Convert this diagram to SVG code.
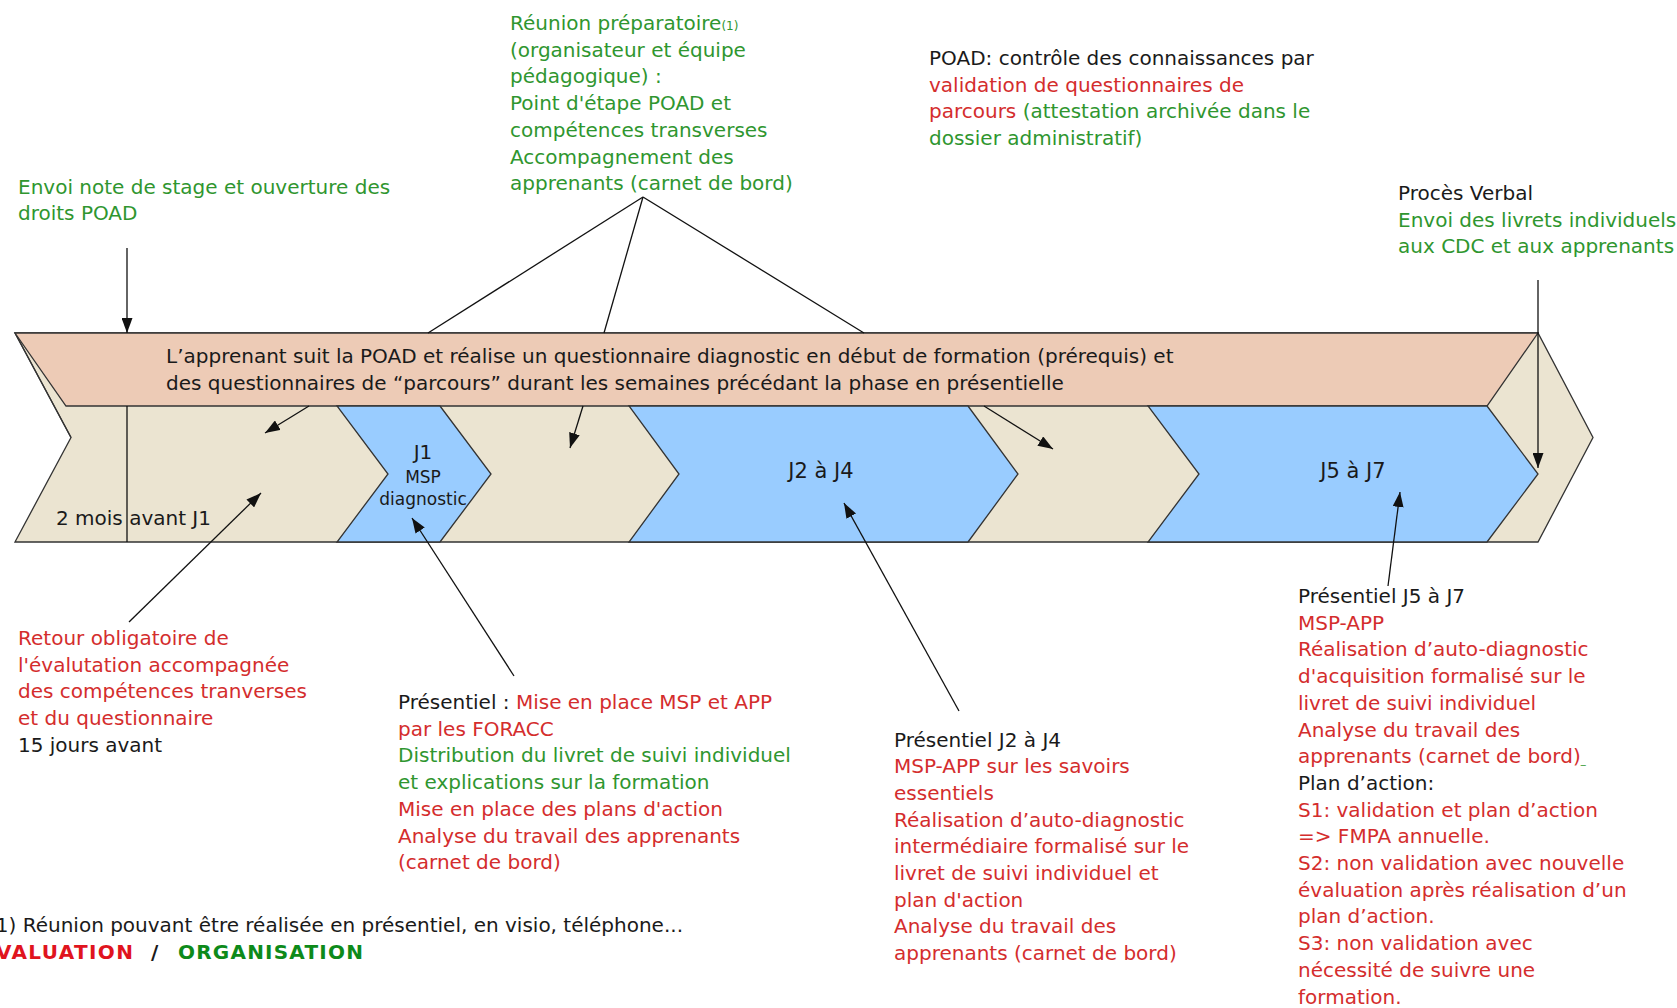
<svg xmlns="http://www.w3.org/2000/svg" width="1677" height="1008" viewBox="0 0 1677 1008">
<defs>
<marker id="ah" markerWidth="16" markerHeight="11" refX="15" refY="5.5" orient="auto" markerUnits="userSpaceOnUse">
<path d="M0,0 L15,5.5 L0,11 z" fill="#111"/>
</marker>
<style>
text{font-family:"DejaVu Sans","Liberation Sans",sans-serif;font-size:20px;fill:#1a1a1a}
.g{fill:#2f962f}
.r{fill:#d42d2d}
.k{fill:#1a1a1a}
.shape{stroke:#333;stroke-width:1.3;stroke-linejoin:miter}
.beige{fill:#ebe4d1}
.peach{fill:#edcbb6}
.blue{fill:#99ccff}
.lbl{font-size:21px;text-anchor:middle}
.conn line{stroke:#111;stroke-width:1.3}
.arr{marker-end:url(#ah)}
</style>
</defs>

<g id="timeline">
<polygon class="shape beige" points="15,333 1538,333 1593,437.5 1538,542 15,542 71,437.5"/>
<line x1="15" y1="333" x2="71" y2="437.5" stroke="#333" stroke-width="1.3"/>
</g>

<g id="poad-band">
<polygon class="shape peach" points="15,333 1538,333 1487,406 66,406"/>
<text x="166" y="363">L’apprenant suit la POAD et réalise un questionnaire diagnostic en début de formation (prérequis) et</text>
<text x="166" y="390">des questionnaires de “parcours” durant les semaines précédant la phase en présentielle</text>
</g>

<g id="j1">
<polygon class="shape blue" points="337,406 440,406 491,474 440,542 337,542 388,474"/>
<text class="lbl" x="423" y="459" style="font-size:20px">J1</text>
<text class="lbl" x="423" y="483" style="font-size:17px">MSP</text>
<text class="lbl" x="423" y="505" style="font-size:17px">diagnostic</text>
</g>

<g id="j2-j4">
<polygon class="shape blue" points="629,406 968,406 1018,474 968,542 629,542 679,474"/>
<text class="lbl" x="821" y="478">J2 à J4</text>
</g>

<g id="j5-j7">
<polygon class="shape blue" points="1148,406 1487,406 1538,474 1487,542 1148,542 1199,474"/>
<text class="lbl" x="1353" y="478">J5 à J7</text>
</g>

<g id="two-months">
<text x="56" y="525">2 mois avant J1</text>
</g>

<g id="reunion">
<text class="g" x="510" y="30">Réunion préparatoire<tspan style="font-size:12px">(1)</tspan></text>
<text class="g" x="510" y="56.7">(organisateur et équipe</text>
<text class="g" x="510" y="83.4">pédagogique) :</text>
<text class="g" x="510" y="110.1">Point d'étape POAD et</text>
<text class="g" x="510" y="136.8">compétences transverses</text>
<text class="g" x="510" y="163.5">Accompagnement des</text>
<text class="g" x="510" y="190.2">apprenants (carnet de bord)</text>
</g>

<g id="poad-control">
<text x="929" y="65">POAD: contrôle des connaissances par</text>
<text class="r" x="929" y="91.7">validation de questionnaires de</text>
<text x="929" y="118.4"><tspan class="r">parcours</tspan><tspan class="g"> (attestation archivée dans le</tspan></text>
<text class="g" x="929" y="145.1">dossier administratif)</text>
</g>

<g id="envoi">
<text class="g" x="18" y="193.5">Envoi note de stage et ouverture des</text>
<text class="g" x="18" y="220.2">droits POAD</text>
</g>

<g id="proces-verbal">
<text x="1398" y="200">Procès Verbal</text>
<text class="g" x="1398" y="226.7">Envoi des livrets individuels</text>
<text class="g" x="1398" y="253.4">aux CDC et aux apprenants</text>
</g>

<g id="retour">
<text class="r" x="18" y="645">Retour obligatoire de</text>
<text class="r" x="18" y="671.7">l'évalutation accompagnée</text>
<text class="r" x="18" y="698.4">des compétences tranverses</text>
<text class="r" x="18" y="725.1">et du questionnaire</text>
<text x="18" y="751.8">15 jours avant</text>
</g>

<g id="presentiel-j1">
<text x="398" y="709"><tspan class="k">Présentiel : </tspan><tspan class="r">Mise en place MSP et APP</tspan></text>
<text class="r" x="398" y="735.7">par les FORACC</text>
<text class="g" x="398" y="762.4">Distribution du livret de suivi individuel</text>
<text class="g" x="398" y="789.1">et explications sur la formation</text>
<text class="r" x="398" y="815.8">Mise en place des plans d'action</text>
<text class="r" x="398" y="842.5">Analyse du travail des apprenants</text>
<text class="r" x="398" y="869.2">(carnet de bord)</text>
</g>

<g id="presentiel-j2-j4">
<text x="894" y="746.5">Présentiel J2 à J4</text>
<text class="r" x="894" y="773.2">MSP-APP sur les savoirs</text>
<text class="r" x="894" y="799.9">essentiels</text>
<text class="r" x="894" y="826.6">Réalisation d’auto-diagnostic</text>
<text class="r" x="894" y="853.3">intermédiaire formalisé sur le</text>
<text class="r" x="894" y="880">livret de suivi individuel et</text>
<text class="r" x="894" y="906.7">plan d'action</text>
<text class="r" x="894" y="933.4">Analyse du travail des</text>
<text class="r" x="894" y="960.1">apprenants (carnet de bord)</text>
</g>

<g id="presentiel-j5-j7">
<text x="1298" y="603">Présentiel J5 à J7</text>
<text class="r" x="1298" y="629.7">MSP-APP</text>
<text class="r" x="1298" y="656.4">Réalisation d’auto-diagnostic</text>
<text class="r" x="1298" y="683.1">d'acquisition formalisé sur le</text>
<text class="r" x="1298" y="709.8">livret de suivi individuel</text>
<text class="r" x="1298" y="736.5">Analyse du travail des</text>
<text x="1298" y="763.2"><tspan class="r">apprenants (carnet de bord)</tspan><tspan class="g" style="font-size:10px">_</tspan></text>
<text x="1298" y="789.9">Plan d’action:</text>
<text class="r" x="1298" y="816.6">S1: validation et plan d’action</text>
<text class="r" x="1298" y="843.3">=&gt; FMPA annuelle.</text>
<text class="r" x="1298" y="870">S2: non validation avec nouvelle</text>
<text class="r" x="1298" y="896.7">évaluation après réalisation d’un</text>
<text class="r" x="1298" y="923.4">plan d’action.</text>
<text class="r" x="1298" y="950.1">S3: non validation avec</text>
<text class="r" x="1298" y="976.8">nécessité de suivre une</text>
<text class="r" x="1298" y="1003.5">formation.</text>
</g>

<g id="footer">
<text x="683" y="931.5" text-anchor="end">(1) Réunion pouvant être réalisée en présentiel, en visio, téléphone...</text>
<text x="-19" y="958.5" textLength="152" lengthAdjust="spacing" style="font-weight:bold;fill:#e0141e">EVALUATION</text>
<text x="151" y="958.5" style="font-weight:bold">/</text>
<text x="178" y="958.5" textLength="185" lengthAdjust="spacing" style="font-weight:bold;fill:#0d8a1a">ORGANISATION</text>
</g>

<g id="connectors" class="conn">
<line class="arr" x1="127" y1="248" x2="127" y2="333"/>
<line x1="127" y1="406" x2="127" y2="542"/>
<line x1="643" y1="197" x2="428" y2="333"/>
<line x1="643" y1="197" x2="604" y2="333"/>
<line x1="643" y1="197" x2="864" y2="333"/>
<line class="arr" x1="309" y1="406" x2="265" y2="433"/>
<line class="arr" x1="583" y1="406" x2="570" y2="448"/>
<line class="arr" x1="984" y1="406" x2="1053" y2="449"/>
<line class="arr" x1="1538" y1="280" x2="1538" y2="468"/>
<line class="arr" x1="129" y1="622" x2="261" y2="493"/>
<line class="arr" x1="514" y1="676" x2="412" y2="518"/>
<line class="arr" x1="959" y1="711" x2="844" y2="503"/>
<line class="arr" x1="1388" y1="586" x2="1400" y2="492"/>
</g>
</svg>
